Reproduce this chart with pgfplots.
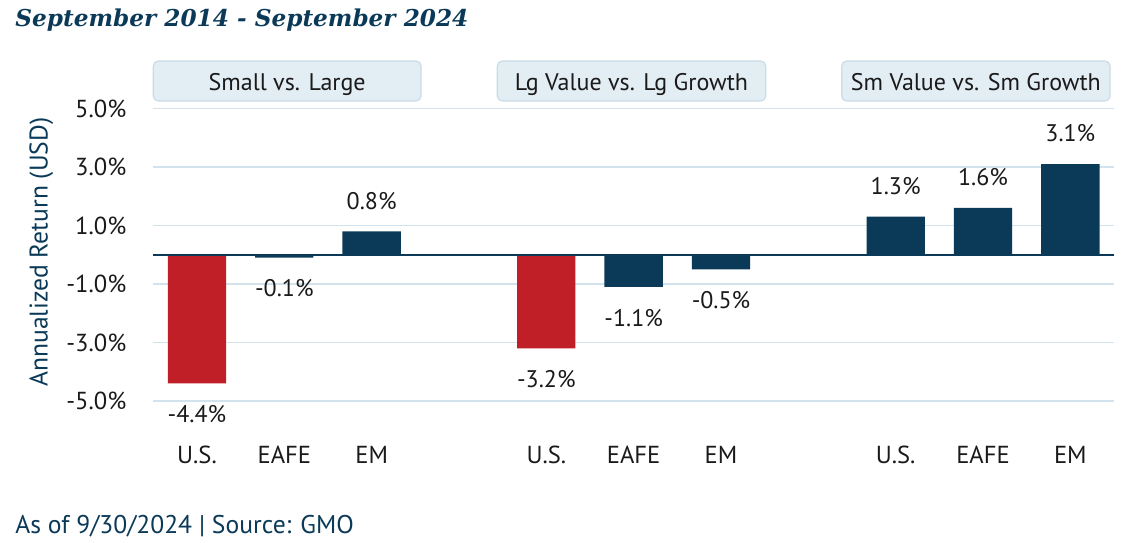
\documentclass[border=0pt]{standalone}
\usepackage{pgfplots}
\pgfplotsset{compat=1.18}
\usepackage{pgfplotstable}
\usepackage{fontspec}
\setmainfont{PT Sans}
\newfontfamily\titlefont{DejaVu Serif}

\definecolor{navy}{HTML}{0B3A58}
\definecolor{gmored}{HTML}{C11F27}
\definecolor{gridblue}{HTML}{D2E3ED}
\definecolor{boxfill}{HTML}{E3EDF4}
\definecolor{boxedge}{HTML}{C9DCE8}
\definecolor{txt}{HTML}{1A1A1A}

% red: U.S. bars of the first two panels
\pgfplotstableread{
x y lab
0 -4.4 -4.4
4 -3.2 -3.2
}\redbars
\pgfplotstableread{
x y lab
1 -0.1 -0.1
5 -1.1 -1.1
6 -0.5 -0.5
}\navyneg
\pgfplotstableread{
x y lab
2 0.8 0.8
8 1.3 1.3
9 1.6 1.6
10 3.1 3.1
}\navypos

\newcommand{\lblfont}{\fontsize{12}{14}\selectfont}

\begin{document}
\begin{tikzpicture}
\useasboundingbox (0,0) rectangle (561pt,271pt);

\begin{axis}[
  at={(76.65pt,70.5pt)}, anchor=south west,
  scale only axis,
  width=480.35pt, height=146.25pt,
  xmin=-0.5, xmax=10.5,
  ymin=-5, ymax=5,
  axis line style={draw=none},
  major tick length=0pt,
  xtick={0,1,2,4,5,6,8,9,10},
  xticklabels={U.S.,EAFE,EM,U.S.,EAFE,EM,U.S.,EAFE,EM},
  ytick={-5,-3,-1,1,3,5},
  yticklabels={-5.0\%,-3.0\%,-1.0\%,1.0\%,3.0\%,5.0\%},
  ymajorgrids,
  grid style={gridblue, line width=0.75pt},
  tick label style={font=\fontsize{12.3}{14}\selectfont, text=txt, inner sep=0pt},
  xticklabel style={anchor=base, yshift=-31pt},
  yticklabel style={anchor=east, xshift=-13.3pt},
  ylabel={Annualized Return (USD)},
  ylabel style={font=\fontsize{12.8}{15}\selectfont, text=navy, at={(axis description cs:-0.1166,0.509)}, anchor=center},
  bar width=0.668,
  nodes near coords={\pgfplotspointmeta\%},
  every node near coord/.append style={font=\lblfont, text=txt, inner xsep=0pt, inner ysep=10.8pt},
  point meta=explicit symbolic,
  clip=false,
]
\addplot[ybar, bar shift=0pt, fill=gmored, draw=none,
  every node near coord/.append style={anchor=north}] table[meta=lab] {\redbars};
\addplot[ybar, bar shift=0pt, fill=navy, draw=none,
  every node near coord/.append style={anchor=north}] table[meta=lab] {\navyneg};
\addplot[ybar, bar shift=0pt, fill=navy, draw=none,
  every node near coord/.append style={anchor=south}] table[meta=lab] {\navypos};
\draw[navy, line width=1pt] (axis cs:-0.5,0) -- (axis cs:10.5,0);
\end{axis}

\begin{scope}[x=0.5pt, y=-0.5pt, shift={(0pt,271pt)}]
\node[anchor=base west, inner sep=0pt, text=navy]
  at (15,26.7) {\titlefont\fontsize{11.6}{14}\selectfont\bfseries\itshape September 2014 - September 2024};

% panel headers
\foreach \xa/\xb/\lab in {153.3/421/{Small vs. Large}, 497.3/765.7/{Lg Value vs. Lg Growth}, 841.7/1110/{Sm Value vs. Sm Growth}}{
  \draw[boxedge, fill=boxfill, rounded corners=2.5pt, line width=0.6pt] (\xa,61) rectangle (\xb,101);
  \node[anchor=base, inner sep=0pt, text=txt, font=\lblfont] at ({(\xa+\xb)/2},90.7) {\lab};
}

\node[anchor=base west, inner sep=0pt, text=navy, font=\fontsize{12.8}{15}\selectfont]
  at (15,533.3) {As of 9/30/2024 | Source: GMO};
\end{scope}
\end{tikzpicture}
\end{document}
